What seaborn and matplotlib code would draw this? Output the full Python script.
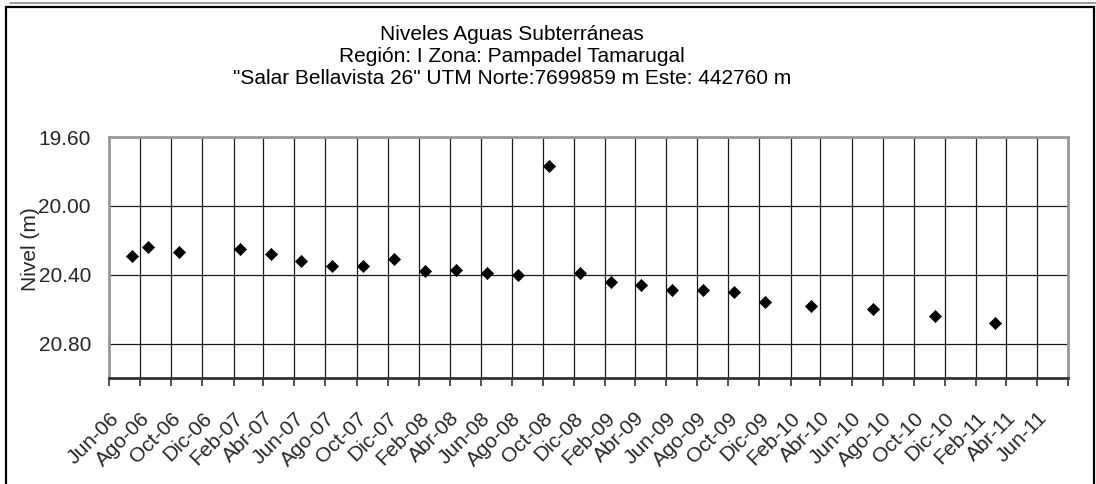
import matplotlib
matplotlib.use("Agg")
import matplotlib.pyplot as plt
from matplotlib.patches import Rectangle
from matplotlib.lines import Line2D
import seaborn as sns
import pandas as pd

# Measurement dates and static water levels (m below reference)
fechas = [
    "2006-07-16", "2006-08-16", "2006-10-16", "2007-02-14", "2007-04-16",
    "2007-06-14", "2007-08-13", "2007-10-14", "2007-12-14", "2008-02-13",
    "2008-04-14", "2008-06-13", "2008-08-13", "2008-10-13", "2008-12-13",
    "2009-02-12", "2009-04-13", "2009-06-13", "2009-08-13", "2009-10-13",
    "2009-12-13", "2010-03-13", "2010-07-13", "2010-11-13", "2011-03-11",
]
niveles = [
    20.29, 20.24, 20.27, 20.25, 20.28,
    20.32, 20.35, 20.35, 20.31, 20.38,
    20.37, 20.39, 20.40, 19.77, 20.39,
    20.44, 20.46, 20.49, 20.49, 20.50,
    20.56, 20.58, 20.60, 20.64, 20.68,
]

# Axis tick labels
etiquetas_x = [
    "Jun-06", "Ago-06", "Oct-06", "Dic-06", "Feb-07", "Abr-07", "Jun-07", "Ago-07",
    "Oct-07", "Dic-07", "Feb-08", "Abr-08", "Jun-08", "Ago-08", "Oct-08", "Dic-08",
    "Feb-09", "Abr-09", "Jun-09", "Ago-09", "Oct-09", "Dic-09", "Feb-10", "Abr-10",
    "Jun-10", "Ago-10", "Oct-10", "Dic-10", "Feb-11", "Abr-11", "Jun-11", "",
]
ticks_y = [19.60, 20.00, 20.40, 20.80]

titulo = [
    "Niveles Aguas Subterráneas",
    "Región: I Zona: Pampadel Tamarugal",
    "\"Salar Bellavista 26\" UTM Norte:7699859 m Este: 442760 m",
]

sns.set_theme(style="white")
plt.rcParams["font.family"] = ["Liberation Sans", "DejaVu Sans"]

df = pd.DataFrame({"fecha": pd.to_datetime(fechas), "nivel": niveles})

W, H = 1096, 484
FS = 15
fig = plt.figure(figsize=(W / 100, H / 100), dpi=100)
fig.patch.set_facecolor("white")
ax = fig.add_axes([109 / W, 1 - 378 / H, (1068 - 109) / W, (378 - 137) / H])

sns.scatterplot(data=df, x="fecha", y="nivel", marker="D", color="black",
                edgecolor="black", s=38, linewidth=0.5, ax=ax, zorder=3)

ticks_x = pd.date_range("2006-06-01", "2011-08-01", freq="2MS")
ax.set_xlim(ticks_x[0], ticks_x[-1])
ax.set_xticks(ticks_x)
ax.set_xticklabels(etiquetas_x, rotation=45, ha="right", va="top",
                   rotation_mode="anchor", fontsize=FS)
ax.tick_params(axis="x", direction="out", length=6, width=1.2, color="#333333",
               pad=16, bottom=True)

ax.set_ylim(21.0, 19.6)
ax.set_yticks(ticks_y)
ax.set_yticklabels([f"{v:.2f}" for v in ticks_y], fontsize=FS)
ax.tick_params(axis="y", length=0, pad=13)

ax.grid(True, which="major", axis="both", color="#1a1a1a", linewidth=0.9)
ax.set_axisbelow(True)

for side in ["top", "left", "right"]:
    ax.spines[side].set_color("#999999")
    ax.spines[side].set_linewidth(2)
ax.spines["bottom"].set_color("#333333")
ax.spines["bottom"].set_linewidth(2)

ax.set_xlabel("")
ax.set_ylabel("Nivel (m)", fontsize=FS)
ax.yaxis.label.set_va("center")
ax.yaxis.set_label_coords((30 - 109) / 959, (378 - 249) / 241)

for linea, base in zip(titulo, [40.0, 62.0, 84.0]):
    fig.text(512 / W, 1 - base / H, linea, ha="center", va="baseline",
             fontsize=FS, color="black")

# Chart frame
fig.add_artist(Rectangle((6 / W, -0.05), (1094 - 6) / W, (H - 7) / H + 0.05,
                         transform=fig.transFigure, fill=False,
                         edgecolor="black", linewidth=1.6))
fig.add_artist(Line2D([10 / W, 1.0], [1 - 2.5 / H, 1 - 2.5 / H],
                      transform=fig.transFigure, color="#888888", linewidth=1.2))

fig.savefig("out.png", dpi=100)
